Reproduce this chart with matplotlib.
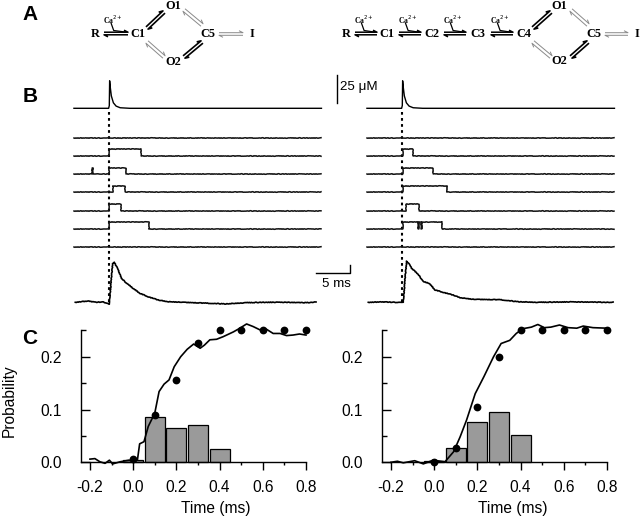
import numpy as np
import matplotlib
matplotlib.use("Agg")
import matplotlib.pyplot as plt
from matplotlib.ticker import MultipleLocator

plt.rcParams['font.family'] = ['Liberation Sans', 'DejaVu Sans']
W, H = 640, 517

# panel C, values
bar_t = [0.0, 0.1, 0.2, 0.3, 0.4]
bar_left = [0.005, 0.085, 0.065, 0.071, 0.025]
bar_right = [0.003, 0.028, 0.077, 0.095, 0.052]

dot_t = [0.0, 0.1, 0.2, 0.3, 0.4, 0.5, 0.6, 0.7, 0.8]
dot_left = [0.006, 0.09, 0.155, 0.226, 0.25, 0.25, 0.25, 0.25, 0.25]
dot_right = [0.001, 0.028, 0.105, 0.2, 0.25, 0.25, 0.25, 0.25, 0.25]

curve_left_t = [-0.2, -0.177, -0.154, -0.13, -0.11, -0.095, -0.06, -0.02, 0.0, 0.02, 0.03, 0.05,
                0.07, 0.1, 0.12, 0.143, 0.166, 0.19, 0.22, 0.25, 0.28, 0.31, 0.33, 0.355, 0.386,
                0.417, 0.464, 0.494, 0.525, 0.556, 0.586, 0.617, 0.648, 0.68, 0.71, 0.74, 0.77, 0.8]
curve_left_p = [0.006, 0.007, 0.001, -0.002, 0.004, -0.003, 0.001, 0.004, 0.003, 0.005, 0.035, 0.039,
                0.068, 0.093, 0.134, 0.148, 0.156, 0.181, 0.2, 0.214, 0.224, 0.216, 0.222, 0.232, 0.233,
                0.238, 0.247, 0.254, 0.262, 0.257, 0.251, 0.252, 0.244, 0.244, 0.24, 0.241, 0.243, 0.241]
curve_right_t = [-0.2, -0.17, -0.143, -0.09, -0.05, -0.005, 0.05, 0.09, 0.12, 0.15, 0.19, 0.23, 0.275,
                 0.31, 0.35, 0.38, 0.41, 0.45, 0.48, 0.51, 0.54, 0.58, 0.62, 0.66, 0.69, 0.735, 0.8]
curve_right_p = [0.0, 0.002, -0.001, 0.003, -0.003, 0.004, 0.001, 0.02, 0.048, 0.08, 0.13, 0.162, 0.2,
                 0.225, 0.231, 0.244, 0.253, 0.256, 0.261, 0.255, 0.256, 0.26, 0.255, 0.254, 0.258, 0.255, 0.254]

# panel B, single channel openings in ms: (open, close) per row
rows_left = [[], [(0.0, 4.6)], [(-2.55, -2.45), (0.0, 2.45)], [(0.55, 2.3)], [(0.0, 1.75)], [(0.0, 5.9)], []]
rows_right = [[], [(0.15, 1.5)], [(0.1, 4.55)], [(0.1, 6.5)], [(0.6, 2.5)], [(0.1, 2.35), (2.5, 2.7), (2.85, 5.8)], []]

ca_t = [-5.2, -0.1, 0.0, 0.05, 0.15, 0.3, 0.6, 1.0, 1.6, 3.0, 31.2]
ca_level = [0, 0, 0.1, 1.0, 0.75, 0.45, 0.2, 0.08, 0.02, 0, 0]

mean_left_t = [-5.0, -4.0, -3.0, -2.0, -1.0, -0.3, 0.0, 0.25, 0.5, 0.74, 1.3, 1.8, 2.56, 3.5, 4.5, 5.7, 7.2,
               8.6, 11.0, 14.0, 17.0, 20.0, 23.0, 26.0, 29.0, 30.4]
mean_left = [0.0, 0.02, 0.03, 0.0, 0.01, -0.02, -0.05, 0.5, 0.97, 1.0, 0.81, 0.6, 0.475, 0.35, 0.225, 0.14,
             0.057, 0.015, 0.0, -0.02, -0.04, -0.01, 0.0, 0.0, -0.01, 0.01]
mean_right_t = [-5.0, -3.0, -1.0, 0.15, 0.4, 0.65, 0.9, 1.38, 2.35, 3.1, 3.97, 4.8, 6.0, 7.5, 8.5, 10.4, 14.4,
                17.0, 20.0, 25.0, 31.0]
mean_right = [0.0, 0.01, 0.0, 0.0, 0.6, 1.03, 0.98, 0.85, 0.7, 0.515, 0.475, 0.31, 0.25, 0.18, 0.115, 0.075,
              0.065, 0.015, 0.0, 0.01, 0.0]


def px_axes(x0, y0, x1, y1):
    return fig.add_axes([x0 / W, 1 - y1 / H, (x1 - x0) / W, (y1 - y0) / H])


def channel_line(openings):
    ts, ys = [-5.2], [0]
    for a, b in openings:
        ts += [a, a, b, b]
        ys += [0, 1, 1, 0]
    ts.append(31.2)
    ys.append(0)
    return ts, ys


def draw_traces(x0, openings_all, mean_t, mean_y):
    # one axes in ms horizontally and pixel rows vertically
    ms = 6.8
    ax = px_axes(x0 - 40, 70, x0 + 225, 315)
    ax.set_xlim(-40 / ms, 225 / ms)
    ax.set_ylim(315, 70)
    ax.axis('off')
    ax.plot(ca_t, [108.3 - 27.5 * v for v in ca_level], color='k', lw=1.0)
    ax.plot([0, 0], [112, 305], color='k', lw=1.5, ls=(0, (1.3, 1.6)))
    for row, openings in zip(row_y, openings_all):
        ts, ys = channel_line(openings)
        line, = ax.plot(ts, [row - 6.8 * v for v in ys], color='#111111', lw=1.1)
        line.set_sketch_params(0.3, 2, 2)
    line, = ax.plot(mean_t, [302.3 - 40 * v for v in mean_y], color='k', lw=1.2)
    line.set_sketch_params(0.3, 2, 2)


def draw_prob(x0, bars, dots, curve_t, curve_p):
    ax = px_axes(x0, 330.3, x0 + 224.7, 462.3)
    ax.set_xlim(-0.24, 0.8)
    ax.set_ylim(0, 0.25)
    ax.bar(bar_t, bars, width=0.092, color='#9a9a9a', edgecolor='k', lw=0.9, clip_on=False, zorder=2)
    ax.plot(curve_t, curve_p, color='k', lw=1.2, clip_on=False, zorder=3)
    ax.plot(dot_t, dots, 'o', color='k', ms=5.6, mew=0, clip_on=False, zorder=4)
    for s in ['top', 'right']:
        ax.spines[s].set_visible(False)
    for s in ['left', 'bottom']:
        ax.spines[s].set_linewidth(1.0)
    ax.xaxis.set_major_locator(MultipleLocator(0.2))
    ax.xaxis.set_minor_locator(MultipleLocator(0.1))
    ax.yaxis.set_major_locator(MultipleLocator(0.1))
    ax.yaxis.set_minor_locator(MultipleLocator(0.05))
    ax.tick_params(axis='x', which='major', direction='out', length=6, width=1, pad=7, labelsize=11.2)
    ax.tick_params(axis='x', which='minor', direction='out', length=2.5, width=1)
    ax.tick_params(axis='y', which='major', direction='in', length=6.5, width=1, pad=14, labelsize=11.2)
    ax.tick_params(axis='y', which='minor', direction='in', length=3.5, width=1)
    ax.set_xticks([-0.2, 0.0, 0.2, 0.4, 0.6, 0.8])
    ax.set_yticks([0.0, 0.1, 0.2])
    ax.set_xticklabels(['-0.2', '0.0', '0.2', '0.4', '0.6', '0.8'])
    ax.set_yticklabels(['0.0', '0.1', '0.2'])
    return ax


def eq_arrow(ax, p0, p1, color='k', lw=1.1, gap=1.3):
    # pair of half arrows for a reversible step
    p0, p1 = np.array(p0, float), np.array(p1, float)
    d = (p1 - p0) / np.hypot(*(p1 - p0))
    n = np.array([d[1], -d[0]])
    for a, b, side in [(p0 + n * gap, p1 + n * gap, 1), (p1 - n * gap, p0 - n * gap, -1)]:
        u = (b - a) / np.hypot(*(b - a))
        barb = b - u * 4 + n * side * 2.0
        ax.plot([a[0], b[0], barb[0]], [a[1], b[1], barb[1]], color=color, lw=lw, solid_capstyle='butt')


def ca_arrow(ax, x0, x1, y, size=5.5):
    eq_arrow(ax, (x0, y), (x1, y), lw=1.1)
    xm = x0 + (x1 - x0) * 0.3
    ax.plot([xm, xm + 2.5, x1 - 3], [y - 10, y - 3, y - 1.5], color='k', lw=0.9)
    ax.text(xm + 2, y - 14, 'Ca$^{2+}$', fontsize=size, family=['Liberation Serif'], weight='bold',
            ha='center', va='center')


def state(ax, x, y, s):
    ax.text(x, y, s, fontsize=8.8, family=['Liberation Serif'], weight='bold', ha='center', va='center')


def diamond(ax, cx, top, right):
    gray = '#8a8a8a'
    eq_arrow(ax, (cx + 7, 28), (top - 2, 12), lw=1.2, gap=1.5)
    eq_arrow(ax, (top + 18, 10), (right - 6, 25), color=gray, lw=0.7, gap=1.6)
    eq_arrow(ax, (cx + 7, 42), (top - 2, 57), color=gray, lw=0.7, gap=1.6)
    eq_arrow(ax, (top + 18, 57), (right - 6, 42), lw=1.2, gap=1.5)


fig = plt.figure(figsize=(W / 100, H / 100), dpi=100)

row_y = [137.7, 156, 174.3, 192.3, 210.7, 229, 247]
draw_traces(109.3, rows_left, mean_left_t, mean_left)
draw_traces(402.3, rows_right, mean_right_t, mean_right)

ax_l = draw_prob(81.3, bar_left, dot_left, curve_left_t, curve_left_p)
ax_r = draw_prob(382.3, bar_right, dot_right, curve_right_t, curve_right_p)

# overlay in pixels for labels, schemes and scale bars
ov = fig.add_axes([0, 0, 1, 1], zorder=10)
ov.set_xlim(0, W)
ov.set_ylim(H, 0)
ov.axis('off')
ov.patch.set_alpha(0)

for s, y in [('A', 14), ('B', 96), ('C', 338)]:
    ov.text(30, y, s, fontsize=15, weight='bold', ha='center', va='center')

ov.text(9, 401, 'Probability', fontsize=11.2, rotation=90, ha='center', va='center')
ov.text(216, 509, 'Time (ms)', fontsize=11.2, ha='center', va='center')
ov.text(513, 509, 'Time (ms)', fontsize=11.2, ha='center', va='center')

# scale bars
ov.plot([336.7, 336.7], [75, 103], color='k', lw=1.0)
ov.text(340, 87, '25 \u03bcM', fontsize=9.6, ha='left', va='center')
ov.plot([316, 349.5, 349.5], [272.7, 272.7, 265], color='k', lw=1.0)
ov.text(336, 284, '5 ms', fontsize=9.6, ha='center', va='center')

# left scheme
for x, y, s in [(95, 34, 'R'), (138, 34, 'C1'), (173, 6, 'O1'), (208, 34, 'C5'), (173, 62, 'O2'), (252, 34, 'I')]:
    state(ov, x, y, s)
ca_arrow(ov, 104, 128, 33.5)
eq_arrow(ov, (219, 34), (243, 34), color='#8a8a8a', lw=0.7)
diamond(ov, 140, 166, 208)

# right scheme
for x, y, s in [(346, 34, 'R'), (387, 34, 'C1'), (432, 34, 'C2'), (478, 34, 'C3'), (524, 34, 'C4'),
                (559, 6, 'O1'), (594, 34, 'C5'), (559, 61, 'O2'), (637, 34, 'I')]:
    state(ov, x, y, s)
for a, b in [(355, 377), (399, 421), (444, 466), (491, 513)]:
    ca_arrow(ov, a, b, 33.5)
eq_arrow(ov, (605, 34), (628, 34), color='#8a8a8a', lw=0.7)
diamond(ov, 526, 553, 594)

fig.savefig('out.png', dpi=100)
